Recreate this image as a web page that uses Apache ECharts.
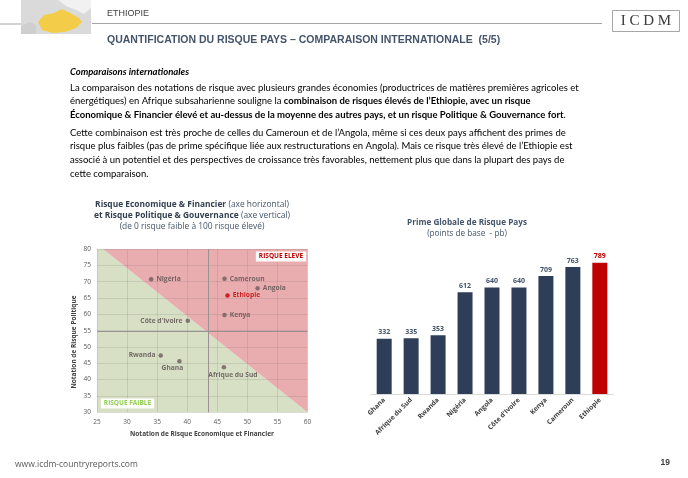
<!DOCTYPE html>
<html><head><meta charset="utf-8">
<script src="https://cdn.jsdelivr.net/npm/echarts@6/dist/echarts.min.js"></script>
<style>html,body{margin:0;padding:0;background:#fff}#c{width:688px;height:478px}</style>
</head><body><div id="c"></div>
<script>
// ---------- data ----------
const scatterNames = ['Nigéria', 'Cameroun', 'Angola', 'Ethiopie', 'Kenya', "Côte d'Ivoire", 'Rwanda', 'Ghana', 'Afrique du Sud'];
const econRisk = [34.0, 46.2, 51.7, 46.7, 46.2, 40.1, 35.6, 38.7, 46.1];
const polRisk  = [70.7, 70.9, 68.0, 65.8, 59.8, 58.0, 47.4, 45.6, 43.8];
const avgEcon = 43.5;
const avgPol = 54.7;
const zoneLowRisk  = [[25, 30], [25, 80], [26, 80], [60, 30]];
const zoneHighRisk = [[26, 80], [60, 80], [60, 30]];
const scatterXTicks = {min: 25, max: 60, step: 5};
const scatterYTicks = {min: 30, max: 80, step: 5};

const barCategories = ['Ghana', 'Afrique du Sud', 'Rwanda', 'Nigéria', 'Angola', "Côte d'Ivoire", 'Kenya', 'Cameroun', 'Ethiopie'];
const barValues = [332, 335, 353, 612, 640, 640, 709, 763, 789];

// ---------- styles ----------
const FOCUS = 'Ethiopie';
const RED = '#c00000';
const NAVY = '#2e3e58';
const labelPlacement = {
  'Nigéria': {position: 'right', offset: [0, 0]},
  'Cameroun': {position: 'right', offset: [0, 0]},
  'Angola': {position: 'right', offset: [0, 0]},
  'Ethiopie': {position: 'right', offset: [0, 0]},
  'Kenya': {position: 'right', offset: [0, 0]},
  "Côte d'Ivoire": {position: 'left', offset: [0, 0]},
  'Rwanda': {position: 'left', offset: [0, 0]},
  'Ghana': {position: 'bottom', offset: [-7, -2]},
  'Afrique du Sud': {position: 'bottom', offset: [9, -1]}
};
const F = "'Open Sans', sans-serif";
const BODY = "Lato, 'Open Sans', sans-serif";
const NARROW = "'Liberation Sans Narrow', 'Liberation Sans', Arial, sans-serif";
const BODY_SIZE = 9.5;

const chart = echarts.init(document.getElementById('c'), null, {renderer: 'canvas'});

function txt(x, y, text, style, extra) {
  return Object.assign({type: 'text', x: x, y: y, silent: true,
    style: Object.assign({text: text, fill: '#000', font: BODY_SIZE + 'px ' + BODY, textVerticalAlign: 'middle'}, style)}, extra || {});
}
const richBody = {
  b: {fontWeight: 'bold', fontFamily: 'Lato', fontSize: BODY_SIZE, fill: '#000'},
  n: {fontFamily: 'Lato', fontSize: BODY_SIZE, fill: '#000'}
};
const richTitle = {
  b: {fontWeight: 'bold', fontFamily: 'Open Sans', fontSize: 8.4, fill: '#333f50'},
  n: {fontFamily: 'Open Sans', fontSize: 8.4, fill: '#44546a'}
};
const bodyLines = [
  [88, '{n|La comparaison des notations de risque avec plusieurs grandes économies (productrices de matières premières agricoles et}'],
  [101, '{n|énergétiques) en Afrique subsaharienne souligne la }{b|combinaison de risques élevés de l’Ethiopie, avec un risque}'],
  [115, '{b|Économique & Financier élevé et au-dessus de la moyenne des autres pays, et un risque Politique & Gouvernance fort}{n|.}'],
  [133, '{n|Cette combinaison est très proche de celles du Cameroun et de l’Angola, même si ces deux pays affichent des primes de}'],
  [146, '{n|risque plus faibles (pas de prime spécifique liée aux restructurations en Angola). Mais ce risque très élevé de l’Ethiopie est}'],
  [160, '{n|associé à un potentiel et des perspectives de croissance très favorables, nettement plus que dans la plupart des pays de}'],
  [174, '{n|cette comparaison.}']
];

const graphics = [
  // header map
  {type: 'rect', shape: {x: 21, y: 0, width: 70, height: 34}, style: {fill: '#dadada'}, silent: true},
  {type: 'polygon', shape: {points: [[21, 26], [30, 22], [36, 25], [36, 34], [21, 34]]}, style: {fill: '#cfcfcf'}, silent: true},
  {type: 'polygon', shape: {points: [[38, 22], [44, 15], [54, 13], [62, 9], [70, 13], [79, 18], [82, 22], [76, 28], [65, 32], [52, 33], [42, 30]]}, style: {fill: '#f3cd4a'}, silent: true},
  {type: 'polygon', shape: {points: [[58, 0], [91, 0], [91, 8], [84, 14], [76, 10], [66, 6]]}, style: {fill: '#f1f1f1'}, silent: true},
  {type: 'line', shape: {x1: 0, y1: 24, x2: 21, y2: 24}, style: {stroke: '#a6a6a6', lineWidth: 1}, silent: true},
  {type: 'line', shape: {x1: 92, y1: 23.5, x2: 602, y2: 23.5}, style: {stroke: '#a6a6a6', lineWidth: 1}, silent: true},
  txt(107, 14, 'ETHIOPIE', {font: '9px ' + NARROW, fill: '#404040'}),
  txt(107, 40, 'QUANTIFICATION DU RISQUE PAYS – COMPARAISON INTERNATIONALE  (5/5)', {font: 'bold 10.5px ' + NARROW, fill: '#44546a'}),
  // logo
  {type: 'rect', shape: {x: 612.5, y: 10.5, width: 67, height: 21}, style: {fill: '#fff', stroke: '#a6a6a6', lineWidth: 1}, silent: true},
  txt(646, 21.5, 'I C D M', {font: '15px "Liberation Serif", serif', fill: '#3a3a3a', textAlign: 'center'}),
  // body
  txt(70, 72, 'Comparaisons internationales', {font: 'italic bold ' + BODY_SIZE + 'px ' + BODY, fill: '#000'}),
  ...bodyLines.map(l => txt(70, l[0], l[1], {rich: richBody, fontFamily: 'Lato', fontSize: BODY_SIZE})),
  // scatter title
  txt(192, 205, '{b|Risque Economique & Financier} {n|(axe horizontal)}', {textAlign: 'center', rich: richTitle, fontSize: 8.4}),
  txt(192, 216, '{b|et Risque Politique & Gouvernance} {n|(axe vertical)}', {textAlign: 'center', rich: richTitle, fontSize: 8.4}),
  txt(192, 227, '(de 0 risque faible à 100 risque élevé)', {textAlign: 'center', font: '8.4px ' + F, fill: '#44546a'}),
  // bar title
  txt(467, 222.5, 'Prime Globale de Risque Pays', {textAlign: 'center', font: 'bold 8.2px ' + F, fill: '#44546a'}),
  txt(467, 234, '(points de base  - pb)', {textAlign: 'center', font: '8.2px ' + F, fill: '#44546a'}),
  // scatter axis names
  txt(202, 434, 'Notation de Risque Economique et Financier', {textAlign: 'center', font: 'bold 6.5px ' + F, fill: '#404040'}),
  txt(74, 342, 'Notation de Risque Politique', {textAlign: 'center', font: 'bold 6.5px ' + F, fill: '#404040'}, {rotation: Math.PI / 2}),
  // zone labels
  txt(281, 256.5, 'RISQUE ELEVE', {textAlign: 'center', font: 'bold 6.5px ' + F, fill: RED, backgroundColor: '#fff', padding: [2, 3, 1, 3]}, {z: 100}),
  txt(127.5, 403.5, 'RISQUE FAIBLE', {textAlign: 'center', font: 'bold 6.5px ' + F, fill: '#92d050', backgroundColor: '#fff', padding: [2, 3, 1, 3]}, {z: 100}),
  // footer
  txt(15, 465, 'www.icdm-countryreports.com', {font: '8.5px ' + F, fill: '#595959'}),
  txt(670, 463, '19', {font: 'bold 8.5px ' + NARROW, fill: '#404040', textAlign: 'right'})
];

const option = {
  animation: false,
  backgroundColor: '#fff',
  textStyle: {fontFamily: F},
  grid: [
    {left: 97, top: 249, width: 210.5, height: 163.3, containLabel: false},
    {left: 370.7, top: 227.6, width: 242.6, height: 166.4, containLabel: false}
  ],
  xAxis: [
    {type: 'value', gridIndex: 0, min: scatterXTicks.min, max: scatterXTicks.max, interval: scatterXTicks.step, z: 3,
      axisLine: {show: false}, axisTick: {show: false},
      splitLine: {show: true, lineStyle: {color: 'rgba(110,110,110,0.18)', width: 1}},
      axisLabel: {fontSize: 6.5, color: '#595959', margin: 6, fontFamily: F}},
    {type: 'category', gridIndex: 1, data: barCategories,
      axisLine: {show: true, lineStyle: {color: '#d9d9d9'}}, axisTick: {show: false},
      axisLabel: {interval: 0, rotate: 45, fontSize: 6.7, fontWeight: 'bold', color: '#404040', margin: 5, fontFamily: F}}
  ],
  yAxis: [
    {type: 'value', gridIndex: 0, min: scatterYTicks.min, max: scatterYTicks.max, interval: scatterYTicks.step, z: 3,
      axisLine: {show: false}, axisTick: {show: false},
      splitLine: {show: true, lineStyle: {color: 'rgba(110,110,110,0.18)', width: 1}},
      axisLabel: {fontSize: 6.5, color: '#595959', margin: 6, fontFamily: F}},
    {type: 'value', gridIndex: 1, min: 0, max: 1000, show: false, splitLine: {show: false}}
  ],
  series: [
    {
      type: 'custom', xAxisIndex: 0, yAxisIndex: 0, z: 1, silent: true,
      data: [[25, 30]],
      renderItem: function (params, api) {
        return {type: 'group', children: [
          {type: 'polygon', shape: {points: zoneLowRisk.map(p => api.coord(p))}, style: {fill: '#d7dfc4'}},
          {type: 'polygon', shape: {points: zoneHighRisk.map(p => api.coord(p))}, style: {fill: '#eaadaf'}}
        ]};
      }
    },
    {
      type: 'scatter', xAxisIndex: 0, yAxisIndex: 0, z: 5, symbolSize: 4.5,
      data: scatterNames.map((n, i) => {
        const isF = n === FOCUS;
        const lp = labelPlacement[n];
        return {name: n, value: [econRisk[i], polRisk[i]],
          itemStyle: {color: isF ? RED : '#6e5a5c'},
          label: {show: true, formatter: '{b}', position: lp.position, offset: lp.offset, distance: 3,
            fontSize: 6.7, fontWeight: 'bold', fontFamily: F, color: isF ? RED : '#5a4f4f'}};
      }),
      markLine: {silent: true, symbol: 'none', z: 4, label: {show: false},
        lineStyle: {color: '#9b9191', width: 1, type: 'solid'},
        data: [{xAxis: avgEcon}, {yAxis: avgPol}]}
    },
    {
      type: 'bar', xAxisIndex: 1, yAxisIndex: 1, barWidth: 15,
      data: barValues.map((v, i) => ({value: v,
        itemStyle: {color: barCategories[i] === FOCUS ? RED : NAVY},
        label: {color: barCategories[i] === FOCUS ? RED : '#44546a'}})),
      label: {show: true, position: 'top', distance: 3, fontSize: 7, fontWeight: 'bold', fontFamily: F}
    }
  ],
  graphic: {elements: graphics}
};
chart.setOption(option);
</script>
</body></html>
